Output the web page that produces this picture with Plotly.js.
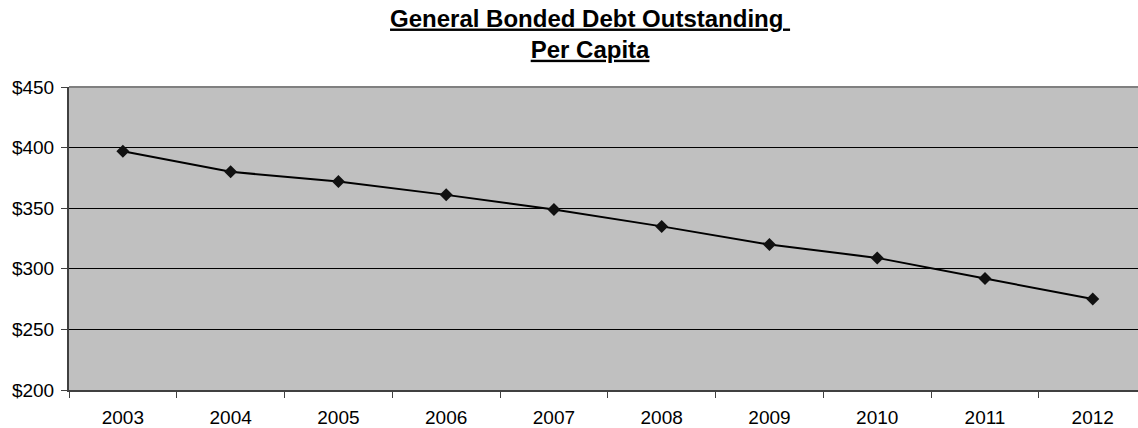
<!DOCTYPE html>
<html>
<head>
<meta charset="utf-8">
<script src="https://cdn.plot.ly/plotly-3.0.1.min.js"></script>
<style>
  html, body { margin: 0; padding: 0; background: #ffffff; }
  #chart { width: 1138px; height: 428px; }
</style>
</head>
<body>
<div id="chart"></div>
<script>
// Fiscal years and general bonded debt outstanding per capita (dollars)
const years = ['2003', '2004', '2005', '2006', '2007', '2008', '2009', '2010', '2011', '2012'];
const debtPerCapita = [397, 380, 372, 361, 349, 335, 320, 309, 292, 275];
const yTickValues = [200, 250, 300, 350, 400, 450];
const yTickLabels = ['$200', '$250', '$300', '$350', '$400', '$450'];

const fontFamily = '"Liberation Sans", Arial, sans-serif';

const trace = {
  type: 'scatter',
  mode: 'lines+markers',
  x: years,
  y: debtPerCapita,
  line: { color: '#000000', width: 2 },
  marker: { symbol: 'diamond', size: 10, color: '#111111', line: { width: 0 } },
  hoverinfo: 'skip',
  showlegend: false
};

const layout = {
  width: 1138,
  height: 428,
  margin: { l: 69, r: 0, t: 87, b: 38 },
  paper_bgcolor: '#ffffff',
  plot_bgcolor: '#c0c0c0',
  font: { family: fontFamily, color: '#000000', size: 19 },
  title: {
    text: '<u>General Bonded Debt Outstanding\u00a0</u><br><u>Per Capita</u>',
    font: { family: fontFamily, size: 24, color: '#000000', weight: 'bold' },
    x: 0.5185,
    xref: 'container',
    xanchor: 'center',
    y: 0.938,
    yref: 'container',
    yanchor: 'top'
  },
  xaxis: {
    type: 'category',
    range: [-0.5, 9.42],
    tickson: 'boundaries',
    ticks: 'outside',
    ticklen: 6,
    tickwidth: 1,
    tickcolor: '#404040',
    showline: true,
    linecolor: '#404040',
    linewidth: 2,
    showgrid: false,
    zeroline: false,
    tickfont: { family: fontFamily, size: 19, color: '#000000' },
    ticklabelstandoff: 9,
    fixedrange: true
  },
  yaxis: {
    range: [200, 450],
    tickmode: 'array',
    tickvals: yTickValues,
    ticktext: yTickLabels,
    ticks: 'outside',
    ticklen: 6,
    tickwidth: 1,
    tickcolor: '#404040',
    showline: true,
    linecolor: '#404040',
    linewidth: 2,
    showgrid: true,
    gridcolor: '#000000',
    gridwidth: 1,
    zeroline: false,
    tickfont: { family: fontFamily, size: 19, color: '#000000' },
    ticklabelstandoff: 3,
    fixedrange: true
  },
  shapes: [
    {
      type: 'line', xref: 'paper', yref: 'paper',
      x0: 0, x1: 1, y0: 1, y1: 1,
      line: { color: '#808080', width: 2 }
    }
  ]
};

Plotly.newPlot('chart', [trace], layout, { staticPlot: true, displayModeBar: false });
</script>
</body>
</html>
